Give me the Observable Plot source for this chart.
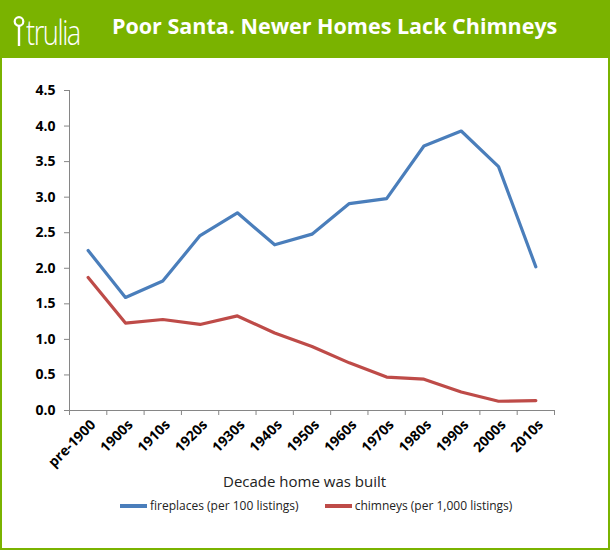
<!DOCTYPE html>
<html>
<head>
<meta charset="utf-8">
<script src="https://cdn.jsdelivr.net/npm/d3@7"></script>
<script src="https://cdn.jsdelivr.net/npm/@observablehq/plot@0.6"></script>
<style>
  html, body { margin: 0; padding: 0; background: #fff; }
  #frame { position: relative; width: 610px; height: 550px; background: #7ab300; overflow: hidden; font-family: "Open Sans", sans-serif; }
  #panel { position: absolute; left: 2px; top: 58px; width: 606px; height: 490px; background: #fff; }
  #logo { position: absolute; left: 13px; top: 7px; height: 40px; display: flex; align-items: flex-end; color: #fff; }
  #logo .word { font-family: "Open Sans", sans-serif; font-weight: 300; font-size: 34px; letter-spacing: -1.8px; line-height: 1; transform: scaleX(0.8); transform-origin: left bottom; margin-left: 1px; margin-bottom: -2px; }
  #title { position: absolute; left: 112px; top: 11px; color: #fff; font-weight: 700; font-size: 21.5px; line-height: 30px; white-space: nowrap; }
  #chart { position: absolute; left: 0; top: 58px; }
  #xlabel { position: absolute; top: 471px; left: 223px; font-size: 15px; color: #222; white-space: nowrap; }
  #legend { position: absolute; top: 497px; left: 120px; font-size: 12px; color: #222; display: flex; align-items: center; white-space: nowrap; }
  #legend .sw { display: inline-block; width: 27px; height: 4px; margin-right: 3px; }
  #legend .item { display: flex; align-items: center; }
</style>
</head>
<body>
<div id="frame">
  <div id="panel"></div>
  <div id="logo">
    <svg width="12" height="32" viewBox="0 0 12 32"><circle cx="6" cy="6.5" r="4.3" fill="none" stroke="#fff" stroke-width="2.2"/><line x1="6" y1="11" x2="6" y2="31" stroke="#fff" stroke-width="2.4"/></svg>
    <span class="word">trulia</span>
  </div>
  <div id="title">Poor Santa. Newer Homes Lack Chimneys</div>
  <div id="chart"></div>
  <div id="xlabel">Decade home was built</div>
  <div id="legend">
    <span class="item"><span class="sw" style="background:#4a7ebb"></span>fireplaces (per 100 listings)</span>
    <span class="item" style="margin-left:26px"><span class="sw" style="background:#be4b48"></span>chimneys (per 1,000 listings)</span>
  </div>
</div>
<script>
const decades = ["pre-1900","1900s","1910s","1920s","1930s","1940s","1950s","1960s","1970s","1980s","1990s","2000s","2010s"];
const fireplaces = [2.25, 1.59, 1.82, 2.46, 2.78, 2.33, 2.48, 2.91, 2.98, 3.72, 3.93, 3.43, 2.02];
const chimneys = [1.87, 1.23, 1.28, 1.21, 1.33, 1.09, 0.90, 0.67, 0.47, 0.44, 0.26, 0.13, 0.14];
const yTicks = [0, 0.5, 1, 1.5, 2, 2.5, 3, 3.5, 4, 4.5];
const seriesNames = ["fireplaces (per 100 listings)", "chimneys (per 1,000 listings)"];
const seriesColors = ["#4a7ebb", "#be4b48"];

// slot index per decade: centers at i + 0.5, band boundaries at integers
const rows = [];
decades.forEach((d, i) => {
  rows.push({series: seriesNames[0], pos: i + 0.5, value: fireplaces[i]});
  rows.push({series: seriesNames[1], pos: i + 0.5, value: chimneys[i]});
});
const boundaries = d3.range(decades.length + 1);
const centers = decades.map((d, i) => i + 0.5);

const chart = Plot.plot({
  width: 610,
  height: 412,
  marginLeft: 69,
  marginRight: 56,
  marginTop: 32,
  marginBottom: 60,
  style: {fontFamily: "'Open Sans', sans-serif", background: "transparent"},
  x: {type: "linear", domain: [0, decades.length], axis: null},
  y: {domain: [0, 4.5], axis: null},
  color: {domain: seriesNames, range: seriesColors},
  marks: [
    Plot.ruleX([0], {stroke: "#868686"}),
    Plot.ruleY([0], {stroke: "#868686"}),
    Plot.axisY({ticks: yTicks, tickSize: 5, tickPadding: 9, tickFormat: d3.format(".1f"), stroke: "#868686", fill: "#000", fontWeight: "bold", fontSize: 14, label: null}),
    Plot.axisX({ticks: boundaries, tickSize: 5, tickFormat: () => "", stroke: "#868686", label: null}),
    Plot.axisX({ticks: centers, tickSize: 0, tickPadding: 12, tickRotate: -45, dx: 5, tickFormat: v => decades[Math.round(v - 0.5)], fill: "#000", fontWeight: "bold", fontSize: 14, label: null}),
    Plot.line(rows, {x: "pos", y: "value", z: "series", stroke: "series", strokeWidth: 3.2, strokeLinejoin: "round"})
  ]
});
document.getElementById("chart").appendChild(chart);
</script>
</body>
</html>
